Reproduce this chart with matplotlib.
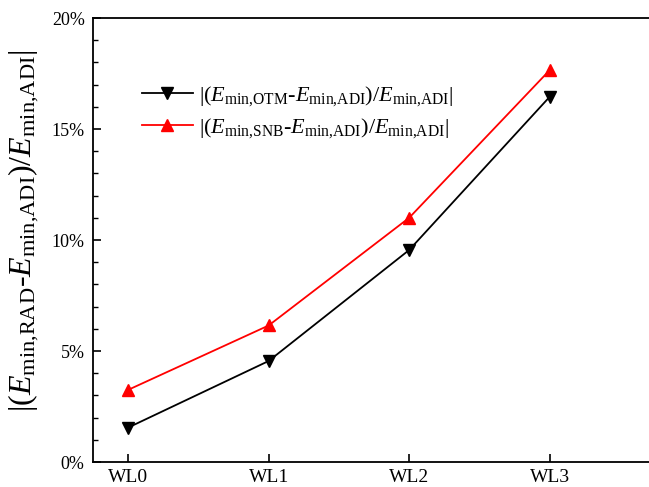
import matplotlib
matplotlib.use('Agg')
from matplotlib import pyplot as plt
from matplotlib.ticker import MultipleLocator, PercentFormatter

plt.rcParams['font.family'] = ['Liberation Serif', 'DejaVu Serif']
plt.rcParams['mathtext.fontset'] = 'custom'
plt.rcParams['mathtext.rm'] = 'Liberation Serif'
plt.rcParams['mathtext.it'] = 'Liberation Serif:italic'

categories = ['WL0', 'WL1', 'WL2', 'WL3']
otm = [1.55, 4.55, 9.55, 16.45]
snb = [3.25, 6.15, 11.0, 17.65]

fig = plt.figure(figsize=(6.49, 4.87), dpi=100)
ax = fig.add_axes([0.1433, 0.0513, 0.866, 0.9117])

x = range(len(categories))
ax.plot(x, otm, color='black', marker='v', markersize=8.5, linewidth=1.3,
        label=r'|($E_{\rm min{,}OTM}$-$E_{\rm min{,}ADI}$)/$E_{\rm min{,}ADI}$|')
ax.plot(x, snb, color='red', marker='^', markersize=8.5, linewidth=1.3,
        label=r'|($E_{\rm min{,}SNB}$-$E_{\rm min{,}ADI}$)/$E_{\rm min{,}ADI}$|')

ax.set_xlim(-0.25, 3.75)
ax.set_ylim(0, 20)
ax.set_xticks(list(x))
ax.set_xticklabels(categories)
ax.yaxis.set_major_locator(MultipleLocator(5))
ax.yaxis.set_minor_locator(MultipleLocator(1))
ax.yaxis.set_major_formatter(PercentFormatter(decimals=0))
ax.tick_params(axis='both', which='major', direction='in', length=6, width=1.2)
ax.tick_params(axis='x', labelsize=14, pad=5)
ax.tick_params(axis='y', labelsize=13, pad=6)
ax.tick_params(axis='y', which='minor', direction='in', length=3.5, width=1.0)
for s in ax.spines.values():
    s.set_linewidth(1.3)

ax.set_ylabel(r'|($E_{\rm min{,}RAD}$-$E_{\rm min{,}ADI}$)/$E_{\rm min{,}ADI}$|', fontsize=23, labelpad=5)
ax.yaxis.set_label_coords(-0.093, 0.52)

ax.legend(loc='upper left', bbox_to_anchor=(0.087, 0.851), frameon=False, fontsize=16,
          borderaxespad=0, borderpad=0, handlelength=2.3, handletextpad=0.25, labelspacing=0.35)

fig.savefig('out.png', dpi=100)
